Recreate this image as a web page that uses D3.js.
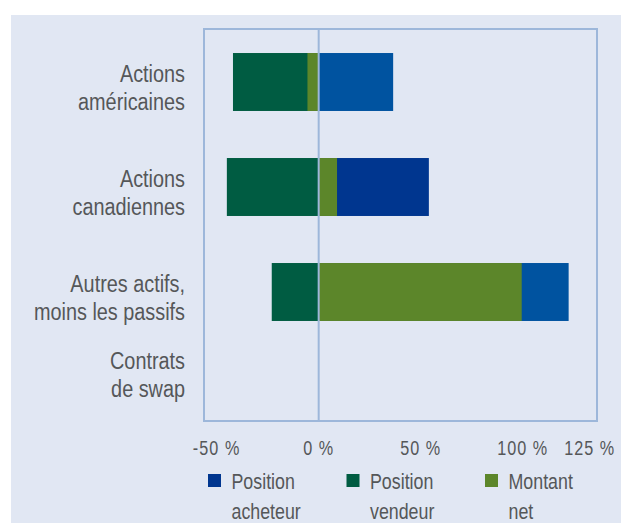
<!DOCTYPE html>
<html>
<head>
<meta charset="utf-8">
<script src="https://cdn.jsdelivr.net/npm/d3@7"></script>
<style>
  html, body { margin: 0; padding: 0; background: #fff; }
  svg { display: block; }
  text { font-family: "Liberation Sans", Arial, sans-serif; fill: #555759; }
</style>
</head>
<body>
<div id="chart"></div>
<script>
// Data (percent)
const categories = [
  ["Actions", "américaines"],
  ["Actions", "canadiennes"],
  ["Autres actifs,", "moins les passifs"],
  ["Contrats", "de swap"]
];
const acheteur = [36.5, 54, 122.5, 0];   // Position acheteur
const vendeur = [-42, -45, -23, 0];      // Position vendeur
const net = [-5.5, 9, 99.5, 0];          // Montant net
const tickValues = [-50, 0, 50, 100, 125];
const seriesNames = [["Position", "acheteur"], ["Position", "vendeur"], ["Montant", "net"]];

const W = 621, H = 523;
const PLOT = { left: 204, right: 597, top: 29, bottom: 421 };
const COLORS = { acheteur: "#00368f", acheteurAlt: "#0053a0", vendeur: "#005c42", net: "#5c862a" };
const BOX = "#9db7da";
const NARROW = " scale(0.81,1)"; // condensed look

const rows = categories.map((c, i) => ({
  key: c.join(" "),
  lines: c,
  acheteur: acheteur[i],
  vendeur: vendeur[i],
  net: net[i]
}));

const svg = d3.select("#chart").append("svg").attr("width", W).attr("height", H);

// panel background
svg.append("rect").attr("x", 11).attr("y", 15).attr("width", W - 11).attr("height", H - 15)
  .attr("fill", "#e1e7f3");

const x = d3.scaleLinear().domain([-56.2, 136.4]).range([PLOT.left, PLOT.right]);
const y = d3.scaleBand().domain(rows.map(d => d.key))
  .range([PLOT.top + 0.5, PLOT.top + 420.5])
  .paddingInner(0.448).paddingOuter(0.224);

// bars: buy and sell from zero, net drawn on top
const g = svg.append("g");
const bar = (val, fill) => g.append("g").selectAll("rect").data(rows).join("rect")
  .attr("x", d => x(Math.min(0, val(d))))
  .attr("y", d => y(d.key))
  .attr("width", d => Math.abs(x(val(d)) - x(0)))
  .attr("height", y.bandwidth())
  .attr("fill", fill);

bar(d => d.acheteur, d => d.key === "Actions canadiennes" ? COLORS.acheteur : COLORS.acheteurAlt);
bar(d => d.vendeur, COLORS.vendeur);
bar(d => d.net, COLORS.net);

// plot box and zero line
svg.append("rect")
  .attr("x", PLOT.left).attr("y", PLOT.top)
  .attr("width", PLOT.right - PLOT.left).attr("height", PLOT.bottom - PLOT.top)
  .attr("fill", "none").attr("stroke", BOX).attr("stroke-width", 2);
svg.append("line")
  .attr("x1", x(0)).attr("x2", x(0)).attr("y1", PLOT.top).attr("y2", PLOT.bottom)
  .attr("stroke", BOX).attr("stroke-width", 2);

// category labels
const lab = svg.append("g").selectAll("text").data(rows).join("text")
  .attr("text-anchor", "end")
  .attr("font-size", 24.5)
  .attr("transform", d => {
    const c = Math.min(y(d.key) + y.bandwidth() / 2, PLOT.bottom - 52);
    return "translate(185," + c + ")" + NARROW;
  });
lab.selectAll("tspan").data(d => d.lines).join("tspan")
  .attr("x", 0).attr("y", (d, i) => i * 28).text(d => d);

// x tick labels
svg.append("g").selectAll("text").data(tickValues).join("text")
  .attr("transform", d => "translate(" + (x(d) + (d === 125 ? 16 : 0)) + ",455)" + NARROW)
  .attr("text-anchor", "middle")
  .attr("font-size", 20)
  .attr("letter-spacing", 1.3)
  .text(d => d + " %");

// legend
const legendColors = [COLORS.acheteur, COLORS.vendeur, COLORS.net];
const leg = svg.append("g").selectAll("g").data(seriesNames).join("g")
  .attr("transform", (d, i) => "translate(" + (208 + i * 138.5) + ",474)");
leg.append("rect").attr("width", 13).attr("height", 13).attr("fill", (d, i) => legendColors[i]);
leg.append("text").attr("font-size", 22)
  .attr("transform", "translate(23.5,0)" + NARROW)
  .selectAll("tspan").data(d => d).join("tspan")
  .attr("x", 0).attr("y", (d, i) => 15 + i * 30).text(d => d);
</script>
</body>
</html>
